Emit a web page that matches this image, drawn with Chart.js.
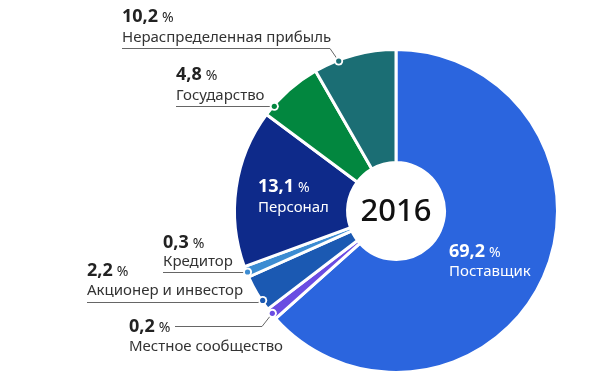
<!DOCTYPE html>
<html><head><meta charset="utf-8">
<script src="https://cdn.jsdelivr.net/npm/chart.js@4/dist/chart.umd.min.js"></script>
<style>html,body{margin:0;padding:0;background:#fff;}#wrap{width:590px;height:372px;position:relative;}</style>
</head><body><div id="wrap"><canvas id="c" width="590" height="372"></canvas></div>
<script>
// categories, clockwise from 12 o'clock
const categories = ["Поставщик","Местное сообщество","Акционер и инвестор","Кредитор","Персонал","Государство","Нераспределенная прибыль"];
// printed percentages (as labelled)
const shareLabels = ["69,2","0,2","2,2","0,3","13,1","4,8","10,2"];
const arcSizes = [63.4, 1.2, 3.7, 1.1, 15.8, 6.5, 8.3];
const colors = ["#2B65DE","#6A4CE2","#1B59B2","#3C8CD2","#0E2A8A","#02873F","#1B6E74"];
const centerLabel = "2016";

const FONT = "'Noto Sans', 'Open Sans', sans-serif";

// label layout: [textX, percentY, nameY, lineY, lineStartX, lineEndX, fractionAlongArc, inside]
const labelLayout = [
  {x:449, py:252, ny:272, inside:true},
  {x:129, py:327, ny:347, lineY:326, lx0:175, lx1:262, f:0.5},
  {x:87,  py:271, ny:291, lineY:302, lx0:87,  lx1:258, f:0.27},
  {x:163, py:243, ny:262, lineY:272, lx0:163, lx1:246, f:0.45},
  {x:258, py:187, ny:208, inside:true},
  {x:176, py:75,  ny:96,  lineY:106, lx0:176, lx1:272, f:0.17},
  {x:122, py:17,  ny:38,  lineY:48,  lx0:122, lx1:330, f:0.3}
];

const labelsPlugin = {
  id:'labels',
  afterDatasetsDraw(chart){
    const ctx = chart.ctx;
    const arcs = chart.getDatasetMeta(0).data;
    ctx.save();
    // center text
    const a0 = arcs[0];
    ctx.fillStyle = "#111";
    ctx.font = "500 31px " + FONT;
    ctx.textAlign = "center"; ctx.textBaseline = "middle";
    ctx.fillText(centerLabel, a0.x, a0.y + 1);
    ctx.textAlign = "left";
    labelLayout.forEach((L, i) => {
      const col = L.inside ? "#fff" : "#222";
      ctx.fillStyle = col;
      ctx.font = "bold 18px " + FONT;
      ctx.textBaseline = "middle";
      ctx.fillText(shareLabels[i], L.x, L.py);
      const w = ctx.measureText(shareLabels[i]).width;
      ctx.font = "14px " + FONT;
      ctx.fillText("%", L.x + w + 4, L.py + 1);
      ctx.font = "15px " + FONT;
      ctx.fillStyle = L.inside ? "#fff" : "#333";
      ctx.fillText(categories[i], L.x, L.ny);
      if (!L.inside) {
        const a = arcs[i];
        const ang = a.startAngle + (a.endAngle - a.startAngle) * L.f;
        const r = a.outerRadius - 1;
        const dx = a.x + Math.cos(ang) * r, dy = a.y + Math.sin(ang) * r;
        ctx.strokeStyle = "#666"; ctx.lineWidth = 1;
        ctx.beginPath();
        ctx.moveTo(L.lx0, L.lineY + 0.5);
        ctx.lineTo(L.lx1, L.lineY + 0.5);
        ctx.lineTo(dx, dy);
        ctx.stroke();
        ctx.beginPath(); ctx.arc(dx, dy, 4.5, 0, Math.PI*2); ctx.fillStyle = "#fff"; ctx.fill();
        ctx.beginPath(); ctx.arc(dx, dy, 2.6, 0, Math.PI*2); ctx.fillStyle = colors[i]; ctx.fill();
      }
    });
    ctx.restore();
  }
};

new Chart(document.getElementById('c'), {
  type:'doughnut',
  data:{labels:categories, datasets:[{data:arcSizes, backgroundColor:colors, borderColor:"#fff", borderWidth:3, hoverOffset:0}]},
  options:{
    responsive:false, animation:false,
    radius:161.5, cutout:'30%',
    layout:{padding:{left:236, right:34, top:51, bottom:1}},
    plugins:{legend:{display:false}, tooltip:{enabled:false}}
  },
  plugins:[labelsPlugin]
});
</script></body></html>
